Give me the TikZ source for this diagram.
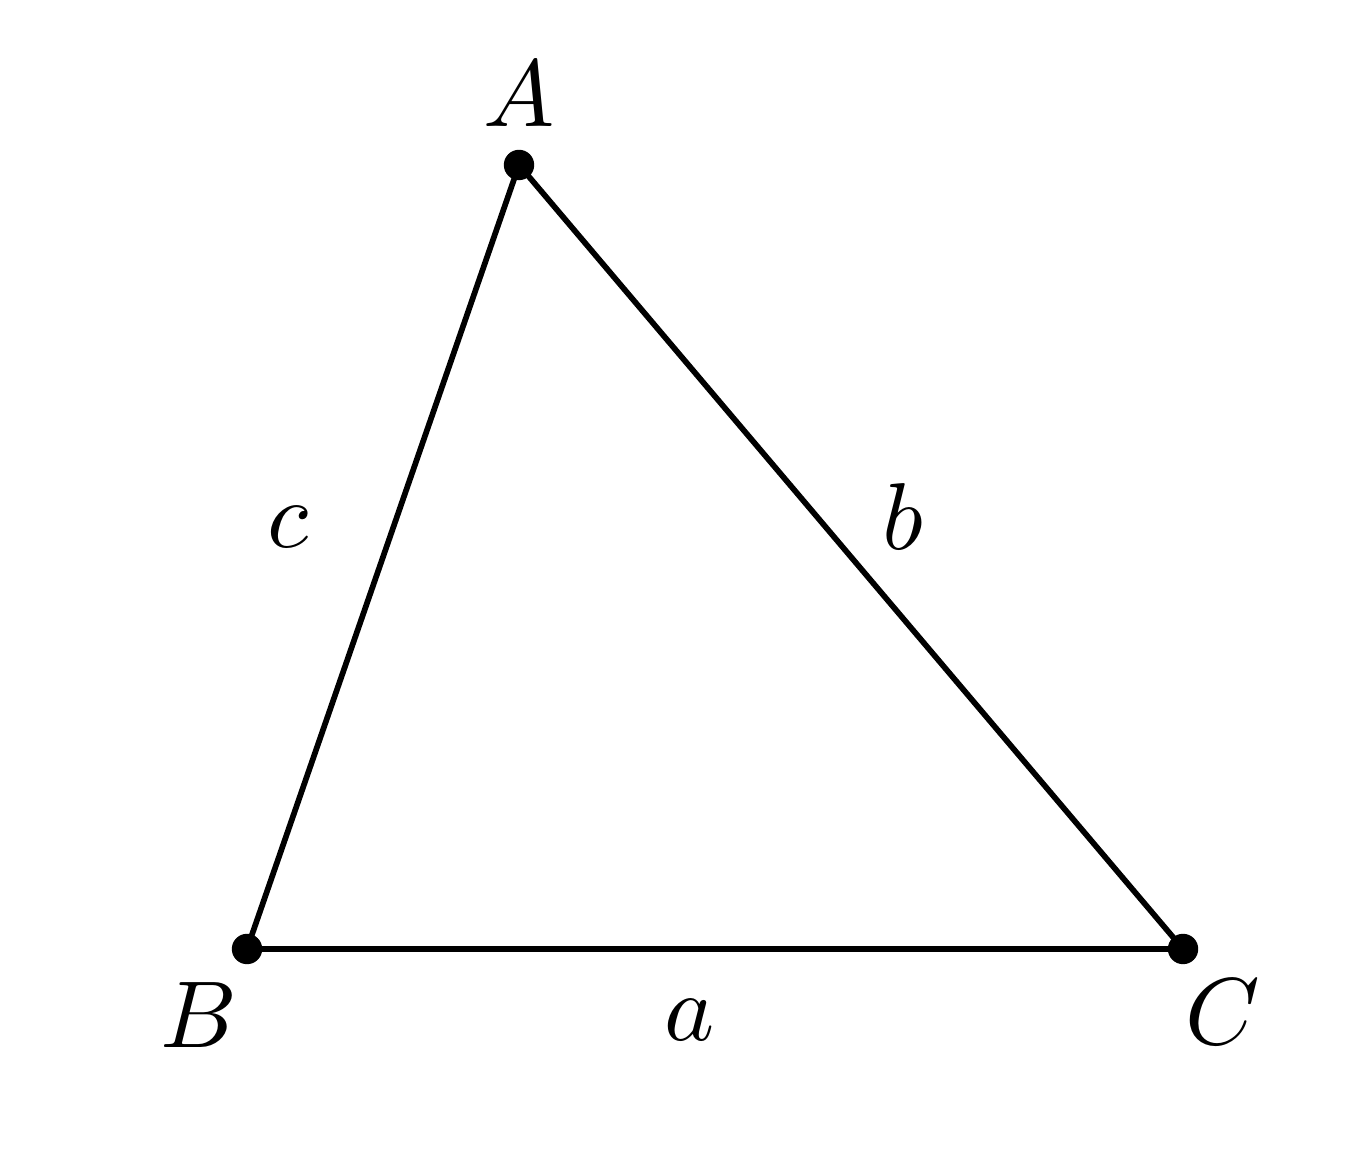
\documentclass[tikz,border=0pt]{standalone}
\usepackage{tikz}
\tikzset{%
  vertex/.style = {circle, fill=black, inner sep=0pt, minimum size=3.2pt},%
  lbl/.style    = {font=\normalsize, inner sep=0pt}%
}
\begin{document}
\begin{tikzpicture}[x=0.37mm, y=-0.37mm, line width=0.6pt]
	\useasboundingbox (0,0) rectangle (134.5,116.9);
	% corners
	\coordinate (A) at (51.9,16.5);
	\coordinate (B) at (24.7,94.9);
	\coordinate (C) at (118.3,94.9);
	\draw (A) -- (B) -- (C) -- cycle;
	\node [vertex] (dA) at (A) {};
	\node [vertex] (dB) at (B) {};
	\node [vertex] (dC) at (C) {};
	% names
	\node [lbl] (nA) at (51.9,9.4) {$A$};
	\node [lbl] (nB) at (19.9,101.5) {$B$};
	\node [lbl] (nC) at (122.3,101.2) {$C$};
	\node [lbl] (na) at (69.0,102.0) {$a$};
	\node [lbl] (nb) at (90.3,51.7) {$b$};
	\node [lbl] (nc) at (28.8,52.7) {$c$};
\end{tikzpicture}
\end{document}
